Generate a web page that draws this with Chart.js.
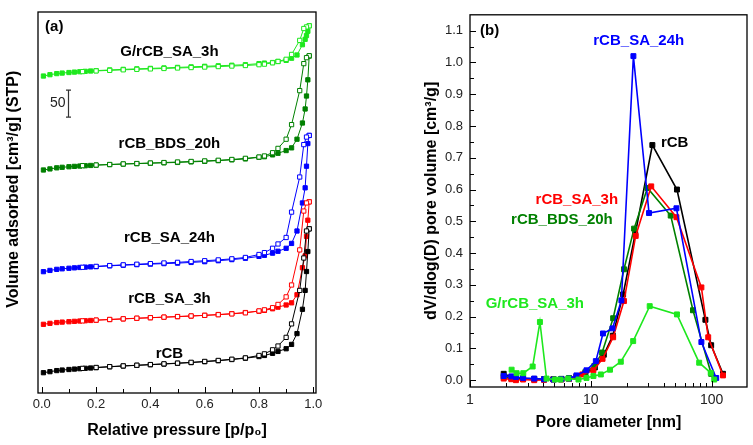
<!DOCTYPE html>
<html><head><meta charset="utf-8">
<script src="https://cdn.jsdelivr.net/npm/chart.js@4.4.1/dist/chart.umd.min.js"></script>
<style>
html,body{margin:0;padding:0;background:#fff;}
#wrap{position:relative;width:753px;height:445px;overflow:hidden;background:#fff;}
#ca{position:absolute;left:0;top:0;}
#cb{position:absolute;left:376px;top:0;}
</style></head><body>
<div id="wrap"><canvas id="ca" width="376" height="445"></canvas><canvas id="cb" width="377" height="445"></canvas></div>
<script>
// ---------- Panel (a): N2 isotherms (vertically offset, arbitrary baseline, cm3/g units) ----------
const ADS_P = [0.006,0.03,0.055,0.075,0.1,0.12,0.14,0.16,0.18,0.2,0.25,0.3,0.35,0.4,0.45,0.5,0.55,0.6,0.65,0.7,0.75,0.8,0.82,0.85,0.87,0.9,0.92,0.94,0.96,0.97,0.975,0.98,0.985];
const DES_P = [0.985,0.975,0.965,0.95,0.92,0.9,0.87,0.85,0.82,0.8,0.75,0.7,0.65,0.6,0.55,0.5,0.45,0.4,0.35,0.3,0.25,0.2,0.15];

const rcbAds  = [37.6,39.5,41.5,42.5,43.5,44.3,45,45.7,46.3,47,48.5,50,51.2,52.4,53.6,55,56.3,58,59.8,62,64.5,67.5,69.5,73.5,77,82,90,110,155,190,225,262,304];
const rcbDes  = [304,300,250,190,128,103,87,80,72.5,69.5,65,62.5,60.3,58.5,56.8,55.3,54,52.7,51.4,50.2,48.8,47.3,45.6];
const sa3Ads  = [127.2,129,130.5,131.3,132,132.7,133.3,133.8,134.3,134.8,136,137.2,138.3,139.4,140.4,141.4,142.5,143.8,145.3,147,149,151.5,153,156,159,163,167,182,232,254,290,320,354];
const sa3Des  = [354,352,337,265,200,178,164,158,154,152,148.5,146.5,145,143.8,142.7,141.6,140.5,139.5,138.5,137.4,136.2,135,133.6];
const sa24Ads = [224.7,227,229,230,231,231.8,232.5,233.1,233.6,234,235.5,236.7,237.7,238.7,239.6,240.5,241.8,243.2,245,247,249.5,253,255,259,262.5,268,277,300,352,380,420,462,477];
const sa24Des = [477,474,460,400,335,288,276,268,260,256.5,251,248.5,246.5,245,243.5,242,240.8,239.6,238.5,237.3,236,234.5,232.8];
const bdsAds  = [413,415,417,418,419,419.7,420.3,420.9,421.4,422,423,424,424.8,425.6,426.3,427,428,429,430.3,431.8,433.5,436.5,437.6,441,444,449,454,470,500,526,550,580,624];
const bdsDes  = [624.6,621,610,560,497,470,453,445,439,437,434.6,432.5,431,429.8,428.8,427.8,426.8,425.9,425,424.2,423.2,422.2,421];
const grcbAds = [587,589.5,591.5,592.5,593.5,594.3,595,595.7,596.3,597,598.3,599.4,600.3,601.2,602,603,604,605,606,607,608,610,611,612,614,616,620,626,645,655,662,670,680];
const grcbDes = [680,678,675,653,627,618,614,611.5,609,608,606.5,605.5,604.5,603.6,602.7,601.9,601,600.2,599.4,598.5,597.5,596.5,595.2];

const P_TICKS = [0,0.2,0.4,0.6,0.8,1.0];
const P_MINOR = [0.1,0.3,0.5,0.7,0.9];
const SCALE_BAR = 50;

// ---------- Panel (b): pore size distribution ----------
const diaRcb  = [1.9,2.2,2.4,2.75,3.4,4.1,4.9,5.7,6.6,7.6,9.0,10.8,12.8,15.2,18.5,23.3,32.3,51.6,88.7,99,124];
const dvRcb   = [0.02,0.01,0.005,0.005,0.004,0.003,0.003,0.004,0.006,0.01,0.02,0.04,0.08,0.14,0.27,0.46,0.74,0.60,0.19,0.11,0.02];
const diaSa3  = [1.9,2.2,2.4,2.75,3.4,4.1,4.9,5.7,6.6,7.6,8.5,10.5,12.5,15.3,18.8,23.5,31.6,51.1,82.2,93.6,124];
const dvSa3   = [0.005,0.003,0.0,0.002,0.0,0.001,0.002,0.002,0.004,0.01,0.018,0.031,0.067,0.135,0.249,0.454,0.61,0.513,0.292,0.135,0.015];
const diaSa24 = [1.9,2.2,2.4,2.75,3.4,4.1,4.9,5.7,6.6,7.6,9.2,11.0,12.6,15.1,17.9,22.5,30.3,51.1,82.2,109];
const dvSa24  = [0.013,0.012,0.01,0.007,0.005,0.003,0.002,0.003,0.005,0.015,0.031,0.06,0.147,0.163,0.251,1.02,0.526,0.541,0.12,0.007];
const diaBds  = [1.9,2.2,2.4,2.75,3.4,4.1,4.9,5.7,6.6,7.6,9.0,10.7,12.4,15.3,18.8,22.8,29.4,45.8,70,99];
const dvBds   = [0.01,0.005,0.003,0.004,0.003,0.002,0.003,0.004,0.006,0.012,0.025,0.045,0.087,0.195,0.349,0.477,0.605,0.518,0.22,0.02];
const diaGrcb = [2.21,2.43,2.76,3.3,3.79,4.3,5.04,5.6,6.5,7.9,9.2,10.5,12.1,14.4,17.7,22.4,30.7,51.6,78.8,98.2,105];
const dvGrcb  = [0.033,0.022,0.022,0.043,0.183,0.005,0.002,0.002,0.005,0.002,0.007,0.013,0.018,0.033,0.058,0.123,0.233,0.207,0.055,0.023,0.002];

const DV_TICKS  = [0,0.1,0.2,0.3,0.4,0.5,0.6,0.7,0.8,0.9,1.0,1.1];
const DV_MINOR  = [0.05,0.15,0.25,0.35,0.45,0.55,0.65,0.75,0.85,0.95,1.05];
const DIA_TICKS = [1,10,100];
const DIA_MINOR = [2,3,4,5,6,7,8,9,20,30,40,50,60,70,80,90];

const NAMES  = ['rCB','rCB_SA_3h','rCB_SA_24h','rCB_BDS_20h','G/rCB_SA_3h'];
const COLORS = ['#000000','#ff0000','#0000ff','#008000','#1ee81e'];

// ---------- shared ----------
Chart.defaults.font.family = "'Liberation Sans', Arial, sans-serif";
Chart.defaults.color = '#111';
const zip = (xs, ys) => xs.map((x, i) => ({x, y: ys[i]}));

function framePlugin(xMajor, xMinor, yMajor, yMinor) {
  return {
    id: 'frame',
    afterDatasetsDraw(chart) {
      const {ctx, chartArea: a, scales: {x, y}} = chart;
      ctx.save();
      ctx.strokeStyle = '#000';
      ctx.lineWidth = 1;
      ctx.beginPath();
      const vt = (vals, len) => vals.forEach(v => { const px = Math.round(x.getPixelForValue(v)) + 0.5; ctx.moveTo(px, a.bottom); ctx.lineTo(px, a.bottom - len); });
      const ht = (vals, len) => vals.forEach(v => { const py = Math.round(y.getPixelForValue(v)) + 0.5; ctx.moveTo(a.left, py); ctx.lineTo(a.left + len, py); });
      vt(xMajor, 6); vt(xMinor, 4); ht(yMajor, 6); ht(yMinor, 4);
      ctx.stroke();
      ctx.lineWidth = 1.3;
      ctx.strokeRect(a.left, a.top, a.right - a.left, a.bottom - a.top);
      ctx.restore();
    }
  };
}

function labelPlugin(labels, extra) {
  return {
    id: 'labels',
    afterDraw(chart) {
      const {ctx, scales: {x, y}} = chart;
      ctx.save();
      labels.forEach(l => {
        ctx.font = l.font || "bold 15px 'Liberation Sans', Arial, sans-serif";
        ctx.fillStyle = l.color;
        ctx.textAlign = l.align || 'center';
        ctx.textBaseline = 'middle';
        ctx.fillText(l.text, x.getPixelForValue(l.x), y.getPixelForValue(l.y));
      });
      if (extra) extra(chart);
      ctx.restore();
    }
  };
}

// ---------- chart (a) ----------
function isoSets(i, ads, des) {
  return [
    {data: zip(DES_P, des), borderColor: COLORS[i], backgroundColor: '#fff', pointBackgroundColor: '#fff', pointBorderColor: COLORS[i], order: 0},
    {data: zip(ADS_P, ads), borderColor: COLORS[i], backgroundColor: COLORS[i], pointBackgroundColor: COLORS[i], pointBorderColor: COLORS[i], order: 1}
  ];
}
const setsA = [].concat(
  isoSets(0, rcbAds, rcbDes), isoSets(1, sa3Ads, sa3Des), isoSets(2, sa24Ads, sa24Des),
  isoSets(3, bdsAds, bdsDes), isoSets(4, grcbAds, grcbDes)
).map(d => Object.assign(d, {showLine: true, borderWidth: 1, pointStyle: 'rect', pointRadius: 3, pointBorderWidth: 1, pointHoverRadius: 3}));

const labelsA = [
  {text: '(a)', x: 0.012, y: 678, color: '#000', align: 'left'},
  {text: 'G/rCB_SA_3h', x: 0.47, y: 631, color: '#000'},
  {text: 'rCB_BDS_20h', x: 0.47, y: 461, color: '#000'},
  {text: 'rCB_SA_24h', x: 0.47, y: 287, color: '#000'},
  {text: 'rCB_SA_3h', x: 0.47, y: 174, color: '#000'},
  {text: 'rCB', x: 0.47, y: 72, color: '#000'}
];
const scaleBar = chart => {
  const {ctx, scales: {x, y}} = chart;
  const bx = Math.round(x.getPixelForValue(0.0965)) + 0.5;
  const y0 = y.getPixelForValue(511), y1 = y.getPixelForValue(511 + SCALE_BAR);
  ctx.strokeStyle = '#333'; ctx.lineWidth = 1.2;
  ctx.beginPath();
  ctx.moveTo(bx, y0); ctx.lineTo(bx, y1);
  ctx.moveTo(bx - 2.5, y0); ctx.lineTo(bx + 2.5, y0);
  ctx.moveTo(bx - 2.5, y1); ctx.lineTo(bx + 2.5, y1);
  ctx.stroke();
  ctx.font = "14px 'Liberation Sans', Arial, sans-serif";
  ctx.fillStyle = '#222'; ctx.textAlign = 'right'; ctx.textBaseline = 'middle';
  ctx.fillText(String(SCALE_BAR), bx - 3, (y0 + y1) / 2);
};

new Chart(document.getElementById('ca'), {
  type: 'scatter',
  data: {datasets: setsA},
  options: {
    responsive: false, devicePixelRatio: 1, animation: false,
    layout: {padding: {top: 12, right: 60, left: 0, bottom: 0}},
    plugins: {legend: {display: false}, tooltip: {enabled: false}},
    scales: {
      x: {
        type: 'linear', min: -0.014, max: 1.01,
        afterBuildTicks: s => { s.ticks = P_TICKS.map(v => ({value: v})); },
        afterFit: s => { s.height = 52; },
        grid: {display: false, drawTicks: false}, border: {display: false},
        ticks: {padding: 4, color: '#222', font: {size: 13}, callback: v => Number(v).toFixed(1)},
        title: {display: true, text: 'Relative pressure [p/p\u2080]', color: '#000', font: {size: 16, weight: 'bold'}, padding: {top: 0, bottom: 5}}
      },
      y: {
        type: 'linear', min: 0, max: 705.6,
        afterFit: s => { s.width = 38; },
        grid: {display: false, drawTicks: false}, border: {display: false},
        ticks: {display: false},
        title: {display: true, text: '      Volume adsorbed [cm\u00b3/g] (STP)', color: '#000', font: {size: 16, weight: 'bold'}, padding: {top: 4, bottom: 0}}
      }
    }
  },
  plugins: [framePlugin(P_TICKS, P_MINOR, [], []), labelPlugin(labelsA, scaleBar)]
});

// ---------- chart (b) ----------
const psdRaw = [
  [4, diaGrcb, dvGrcb], [2, diaSa24, dvSa24], [1, diaSa3, dvSa3], [3, diaBds, dvBds], [0, diaRcb, dvRcb]
];
const setsB = psdRaw.map(([i, xs, ys]) => ({
  label: NAMES[i], data: zip(xs, ys), showLine: true,
  borderColor: COLORS[i], backgroundColor: COLORS[i], pointBackgroundColor: COLORS[i], pointBorderColor: COLORS[i],
  borderWidth: 1.6, pointStyle: 'rect', pointRadius: 3.5, pointBorderWidth: 1, pointHoverRadius: 3.5
}));
const labelsB = [
  {text: '(b)', x: 1.21, y: 1.098, color: '#000', align: 'left'},
  {text: 'rCB_SA_24h', x: 24.9, y: 1.068, color: COLORS[2]},
  {text: 'rCB', x: 49.4, y: 0.748, color: COLORS[0]},
  {text: 'rCB_SA_3h', x: 7.66, y: 0.566, color: COLORS[1]},
  {text: 'rCB_BDS_20h', x: 5.76, y: 0.505, color: COLORS[3]},
  {text: 'G/rCB_SA_3h', x: 3.44, y: 0.24, color: COLORS[4]}
];

new Chart(document.getElementById('cb'), {
  type: 'scatter',
  data: {datasets: setsB},
  options: {
    responsive: false, devicePixelRatio: 1, animation: false,
    layout: {padding: {top: 6, right: 6, left: 0, bottom: 0}},
    plugins: {legend: {display: false}, tooltip: {enabled: false}},
    scales: {
      x: {
        type: 'logarithmic', min: 1, max: 196,
        afterBuildTicks: s => { s.ticks = DIA_TICKS.map(v => ({value: v})); },
        afterFit: s => { s.height = 58; },
        grid: {display: false, drawTicks: false}, border: {display: false},
        ticks: {padding: 5, color: '#222', font: {size: 14}, callback: v => String(v)},
        title: {display: true, text: 'Pore diameter [nm]', color: '#000', font: {size: 16, weight: 'bold'}, padding: {top: 0, bottom: 13}}
      },
      y: {
        type: 'linear', min: -0.0215, max: 1.15,
        afterBuildTicks: s => { s.ticks = DV_TICKS.map(v => ({value: v})); },
        afterFit: s => { s.width = 94; },
        grid: {display: false, drawTicks: false}, border: {display: false},
        ticks: {padding: 7, color: '#222', font: {size: 13}, callback: v => Number(v).toFixed(1)},
        title: {display: true, text: 'dV/dlog(D) pore volume [cm\u00b3/g]', color: '#000', font: {size: 16, weight: 'bold'}, padding: {top: 46, bottom: 0}}
      }
    }
  },
  plugins: [framePlugin(DIA_TICKS, DIA_MINOR, DV_TICKS, DV_MINOR), labelPlugin(labelsB)]
});
</script>
</body></html>
